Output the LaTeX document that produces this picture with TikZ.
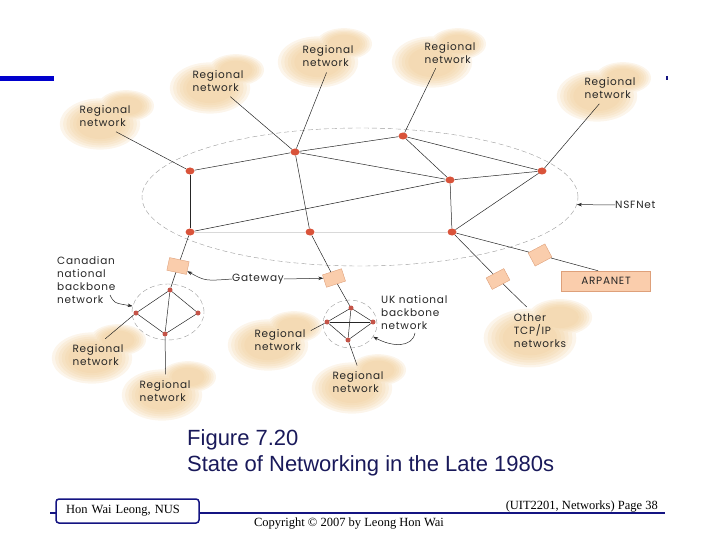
\documentclass[tikz,border=0pt]{standalone}
\usepackage{fontspec}
\setmainfont{Liberation Serif}
\newfontfamily\labelfont[LetterSpace=7]{Poppins}
\newfontfamily\captionfont{Liberation Sans}
\usetikzlibrary{arrows.meta, shapes.geometric}
\definecolor{cloudpeach}{RGB}{240,204,150}
\definecolor{dotred}{RGB}{217,83,58}
\definecolor{bbred}{RGB}{196,84,72}
\definecolor{gatefill}{RGB}{250,205,172}
\definecolor{gateedge}{RGB}{222,160,122}
\definecolor{capnavy}{RGB}{25,25,90}
\definecolor{footnavy}{RGB}{20,20,130}
\definecolor{topblue}{RGB}{0,0,205}
\newcommand{\softcloud}[3][1]{ % #1: size factor, #2: x, #3: y of the main blob
  \foreach \sz in {1.22,1.12,1.02,0.92,0.82,0.72}
  {
    \fill[cloudpeach, fill opacity=0.19] (#2,#3) ellipse ({33*\sz*#1} and {21*\sz*#1})
      (#2+26*#1,#3-18*#1) ellipse ({23*\sz*#1} and {13*\sz*#1}); % main blob and upper right lobe
  }
}
\begin{document}
\begin{tikzpicture}[x=1pt, y=-1pt,
  link/.style={draw=black!85, line width=0.5pt},
  faint/.style={draw=black!15, line width=0.6pt},
  pointer/.style={draw=black!85, line width=0.5pt, -{Stealth[length=5pt,width=3.5pt]}},
  nsfdot/.style={ellipse, fill=dotred, inner sep=0pt, minimum width=9pt, minimum height=7pt},
  bbdot/.style={circle, fill=bbred, inner sep=0pt, minimum size=5pt},
  ring/.style={ellipse, draw=black!40, dash pattern=on 5pt off 3pt, line width=0.4pt, inner sep=0pt},
  gateway/.style={rectangle, fill=gatefill, draw=gateedge, line width=0.4pt, inner sep=0pt, minimum width=20pt, minimum height=13pt},
  cloudtext/.style={ellipse, inner sep=1pt, align=left, font=\labelfont\fontsize{10.5}{13}\selectfont, text=black!85},
  plaintext/.style={inner sep=0pt, align=left, font=\labelfont\fontsize{10.5}{13}\selectfont, text=black!85},
  capstyle/.style={inner sep=0pt, font=\captionfont\fontsize{22}{26}\selectfont, text=capnavy},
  footfont/.style={inner sep=0pt, font=\fontsize{12.5}{14}\selectfont}
]
\useasboundingbox (0,0) rectangle (720,540);

% Slide decoration, top
\fill[topblue] (0,76) rectangle (54,81);
\fill[footnavy] (666,76) rectangle (668,80);

% Soft clouds behind the regional networks
\softcloud{100}{124}
\softcloud{210}{88}
\softcloud{318}{62}
\softcloud{432}{62}
\softcloud{597}{96}
\softcloud{92}{358}
\softcloud{162}{395}
\softcloud{268}{345}
\softcloud{352}{388}
\softcloud[1.15]{530}{338}

% NSFNet ring and its nodes
\node[ring, minimum width=436pt, minimum height=138pt] (nsfring) at (360,197) {};
\foreach \name/\x/\y in {a/190/171, b/295/152, c/403/136, d/450/180, e/542/171, f/190/232, g/310/232, h/452/232}
{
    \node[nsfdot] (\name) at (\x,\y) {};
}
\draw[faint] (f) -- (g) -- (h);
\foreach \u/\v in {a/b, a/f, b/c, b/d, b/g, c/d, c/e, d/e, d/h, e/h, f/d}
{
    \draw[link] (\u) -- (\v);
}

% Canadian national backbone
\node[ring, minimum width=72pt, minimum height=56pt] (canring) at (168,312) {};
\foreach \name/\x/\y in {cantop/170/290, canleft/136/313, canright/198/313, canbot/165/334}
{
    \node[bbdot] (\name) at (\x,\y) {};
}
\foreach \u/\v in {cantop/canleft, cantop/canright, canleft/canbot, canright/canbot, cantop/canbot}
{
    \draw[link] (\u) -- (\v);
}

% UK national backbone
\node[ring, minimum width=54pt, minimum height=48pt] (ukring) at (350,324) {};
\foreach \name/\x/\y in {uktop/351/308, ukleft/327/322, ukright/373/322, ukbot/348/340}
{
    \node[bbdot] (\name) at (\x,\y) {};
}
\foreach \u/\v in {uktop/ukleft, uktop/ukright, uktop/ukbot, ukleft/ukright, ukleft/ukbot, ukright/ukbot}
{
    \draw[link] (\u) -- (\v);
}

% Gateways
\node[gateway, rotate=-12] (gw1) at (178,266) {};
\node[gateway, rotate=18] (gw2) at (334,278) {};
\node[gateway, rotate=28, minimum width=19pt, minimum height=15pt] (gw3) at (540,255) {};
\node[gateway, rotate=28] (gw4) at (498,279) {};
\node[rectangle, fill=gatefill, draw=gateedge, line width=0.5pt, minimum width=89pt, minimum height=20pt,
      font=\labelfont\fontsize{10.5}{13}\selectfont, text=black!85] (arpanet) at (606,281) {ARPANET};
\foreach \u/\v in {f/gw1, gw1/cantop, g/gw2, gw2/uktop, h/gw3, h/gw4}
{
    \draw[link] (\u) -- (\v);
}
\draw[link] (gw3) -- ([xshift=-8pt]arpanet.north);

% Regional networks
\node[cloudtext] (r1) at (105,116) {Regional\\network};
\node[cloudtext] (r2) at (218,81) {Regional\\network};
\node[cloudtext] (r3) at (328,56) {Regional\\network};
\node[cloudtext] (r4) at (450,53) {Regional\\network};
\node[cloudtext] (r5) at (610,88) {Regional\\network};
\node[cloudtext] (r6) at (98,355) {Regional\\network};
\node[cloudtext] (r7) at (165,391) {Regional\\network};
\node[cloudtext] (r8) at (280,340) {Regional\\network};
\node[cloudtext] (r9) at (358,382) {Regional\\network};
\node[cloudtext] (other) at (540,331) {Other\\TCP/IP\\networks};
\draw[link] (r1.-55) -- (a);
\draw[link] (r2.-52) -- (b);
\draw[link] (r3.-95) -- (b);
\draw[link] (r4.-133) -- (c);
\draw[link] (r5.-124) -- (e);
\draw[link] (r6.66) -- (canleft);
\draw[link] (r7.88) -- (canbot);
\draw[link] (r8.17) -- (ukleft);
\draw[link] (r9.93) -- (ukbot);
\draw[link] (other.119) -- (gw4);

% Labels and pointers
\node[plaintext, anchor=west] (nsflabel) at (615,205) {NSFNet};
\draw[pointer] (nsflabel.west) -- (nsfring.-2);
\node[plaintext, anchor=west] (gwlabel) at (232,279) {Gateway};
\draw[pointer] (gwlabel.west) .. controls (205,281) .. (gw1);
\draw[pointer] (gwlabel.east) -- (gw2);
\node[plaintext, anchor=west] (canlabel) at (57,280) {Canadian\\national\\backbone\\network};
\coordinate (cantail) at (110,295);
\draw[pointer] (cantail) .. controls (114,303) .. (canring);
\node[plaintext, anchor=west] (uklabel) at (381,313) {UK national\\backbone\\network};
\coordinate (uktail) at (415,333);
\draw[pointer] (uktail) .. controls (412,348) and (392,347) .. (ukring);

% Caption
\node[capstyle, anchor=base west] (figno) at (187,445) {Figure 7.20};
\node[capstyle, anchor=base west] (figtitle) at (187,471) {State of Networking in the Late 1980s};

% Footer
\draw[footnavy, line width=1.5pt] (50,513) -- (665,513);
\node[footfont, draw=footnavy, line width=1.5pt, rounded corners=3pt, fill=white, text width=123pt,
      align=left, inner xsep=10pt, minimum height=24pt] (author) at (127.5,511) {Hon Wai Leong, NUS};
\node[footfont, anchor=base] (copyright) at (349,526) {Copyright © 2007 by Leong Hon Wai};
\node[footfont, anchor=base east] (pageno) at (658,509) {(UIT2201, Networks) Page 38};

\end{tikzpicture}
\end{document}
